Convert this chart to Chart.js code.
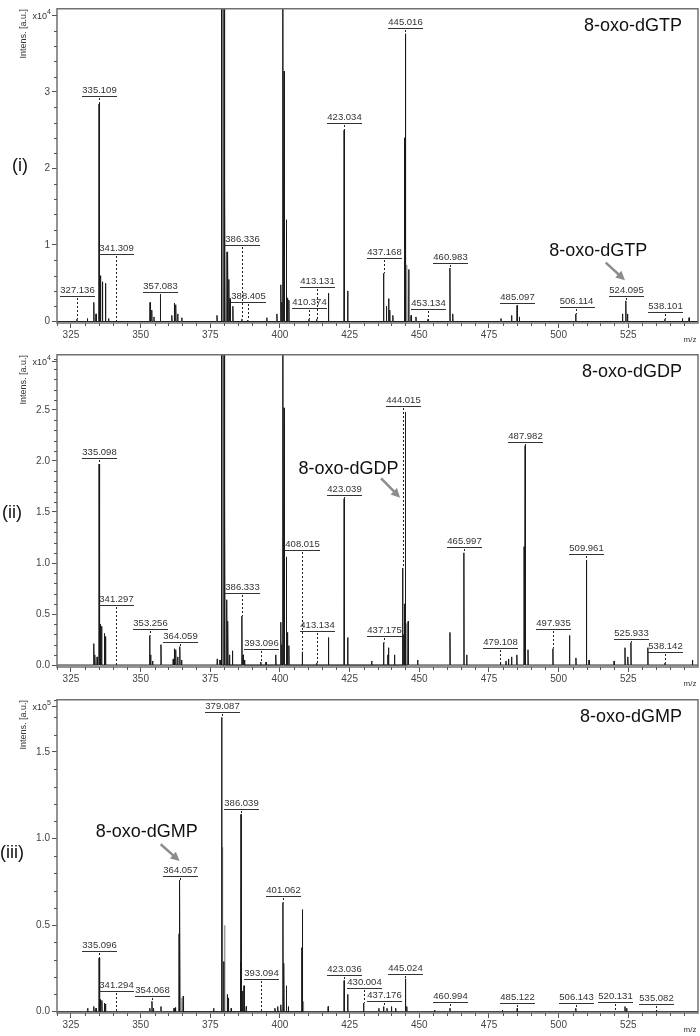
<!DOCTYPE html>
<html>
<head>
<meta charset="utf-8">
<script src="https://cdn.jsdelivr.net/npm/chart.js@4.4.1/dist/chart.umd.min.js"></script>
<style>
  body { margin: 0; background: #fff; width: 700px; height: 1036px; position: relative; overflow: hidden; }
  .panel { position: absolute; left: 0; width: 700px; }
</style>
</head>
<body>
<div class="panel" style="top:0;height:346px"><canvas id="c1"></canvas></div>
<div class="panel" style="top:346px;height:345px"><canvas id="c2"></canvas></div>
<div class="panel" style="top:691px;height:345px"><canvas id="c3"></canvas></div>
<script>
// m/z axis
const xTicks = [325, 350, 375, 400, 425, 450, 475, 500, 525];

// (i) 8-oxo-dGTP, intensity x10^4  [m/z, intensity]
const p1Peaks = [
  [327.136, 0.03], [330.9, 0.04], [333.2, 0.25], [334.0, 0.10], [335.109, 2.84], [335.6, 0.60],
  [336.3, 0.52], [337.4, 0.50], [338.5, 0.04], [341.309, 0.02], [353.4, 0.25], [354.0, 0.15],
  [354.8, 0.06], [357.083, 0.33], [361.2, 0.08], [362.1, 0.24], [362.6, 0.22], [363.3, 0.10],
  [364.8, 0.05], [377.4, 0.08], [379.0, 6], [380.0, 6], [380.2, 1.80], [381.0, 0.91],
  [381.3, 0.91], [381.7, 0.55], [382.1, 0.30], [383.1, 0.20], [386.336, 0.03], [388.405, 0.02],
  [395.3, 0.05], [398.9, 0.10], [400.3, 0.48], [400.7, 0.25], [401.06, 6], [401.5, 3.27],
  [402.3, 1.33], [402.7, 0.31], [403.2, 0.28], [410.374, 0.03], [413.131, 0.03], [417.4, 0.37],
  [423.034, 2.50], [424.3, 0.40], [437.168, 0.63], [438.2, 0.20], [439.0, 0.30], [439.4, 0.15],
  [440.5, 0.08], [444.65, 2.40], [445.016, 3.76], [446.2, 0.68], [447.05, 0.08], [448.8, 0.06],
  [453.134, 0.03], [460.983, 0.70], [462.0, 0.10], [479.3, 0.04], [483.1, 0.08], [485.097, 0.21],
  [485.9, 0.06], [506.114, 0.10], [522.9, 0.10], [524.095, 0.27], [524.7, 0.10], [538.101, 0.03],
  [544.4, 0.04], [546.8, 0.05]
];
const p1Gray = [[379.25, 6], [379.5, 6], [379.75, 6], [445.5, 0.74]];
const p1Labels = [
  [327.136, 0.33], [335.109, 2.94], [341.309, 0.88], [357.083, 0.38], [386.336, 1.0], [388.405, 0.25],
  [410.374, 0.18], [413.131, 0.45], [423.034, 2.59], [437.168, 0.83], [445.016, 3.83], [453.134, 0.17],
  [460.983, 0.76], [485.097, 0.24], [506.114, 0.19], [524.095, 0.34], [538.101, 0.13]
];
const p1YTicks = [0, 1, 2, 3];
const p1YLabels = ['0', '1', '2', '3'];

// (ii) 8-oxo-dGDP, intensity x10^4
const p2Peaks = [
  [333.2, 0.21], [333.6, 0.10], [334.4, 0.08], [335.098, 1.97], [335.45, 0.40], [336.0, 0.38],
  [337.0, 0.31], [337.4, 0.28], [341.297, 0.02], [353.256, 0.29], [353.6, 0.10], [354.3, 0.04],
  [357.3, 0.20], [361.7, 0.06], [362.1, 0.16], [362.6, 0.15], [363.3, 0.08], [364.059, 0.18],
  [364.7, 0.05], [377.5, 0.06], [378.5, 0.05], [379.0, 6], [380.0, 6], [380.2, 1.65],
  [380.9, 0.64], [381.3, 0.43], [381.9, 0.10], [382.95, 0.14], [386.333, 0.48], [386.8, 0.10],
  [387.3, 0.05], [393.096, 0.03], [395.0, 0.03], [398.5, 0.10], [400.3, 0.42], [400.7, 0.20],
  [401.06, 6], [401.5, 2.52], [402.3, 1.06], [402.7, 0.32], [403.2, 0.19], [408.015, 0.13],
  [413.134, 0.02], [417.4, 0.27], [423.039, 1.63], [424.3, 0.27], [432.9, 0.04], [437.175, 0.22],
  [438.7, 0.10], [439.0, 0.17], [441.1, 0.10], [444.015, 0.95], [444.4, 0.30], [444.65, 0.60],
  [445.0, 2.48], [446.0, 0.43], [449.4, 0.05], [461.0, 0.32], [465.997, 1.10], [467.0, 0.10],
  [479.108, 0.03], [481.1, 0.04], [482.0, 0.06], [483.1, 0.08], [485.0, 0.10], [487.6, 1.16],
  [487.982, 2.15], [489.0, 0.15], [497.935, 0.16], [503.9, 0.29], [506.2, 0.07], [509.961, 1.03],
  [510.9, 0.05], [519.9, 0.04], [523.8, 0.17], [524.8, 0.08], [525.933, 0.22], [532.0, 0.17],
  [538.142, 0.02], [548.0, 0.05]
];
const p2Gray = [[379.25, 6], [379.5, 6], [379.75, 6], [445.5, 0.41]];
const p2Labels = [
  [335.098, 2.03], [341.297, 0.59], [353.256, 0.35], [364.059, 0.23], [386.333, 0.71], [393.096, 0.16],
  [408.015, 1.13], [413.134, 0.33], [423.039, 1.67], [437.175, 0.28], [444.015, 2.54], [465.997, 1.16],
  [479.108, 0.17], [487.982, 2.19], [497.935, 0.35], [509.961, 1.09], [525.933, 0.26], [538.142, 0.13]
];
const p2YTicks = [0, 0.5, 1, 1.5, 2, 2.5];
const p2YLabels = ['0.0', '0.5', '1.0', '1.5', '2.0', '2.5'];

// (iii) 8-oxo-dGMP, intensity x10^5
const p3Peaks = [
  [331.0, 0.02], [333.2, 0.03], [334.0, 0.02], [335.096, 0.31], [335.5, 0.07], [336.1, 0.065],
  [337.0, 0.05], [337.4, 0.045], [353.3, 0.02], [354.068, 0.06], [354.6, 0.02], [357.3, 0.03],
  [362.0, 0.02], [362.5, 0.025], [363.8, 0.45], [364.057, 0.76], [365.3, 0.09], [376.2, 0.02],
  [379.087, 1.70], [379.8, 0.29], [381.1, 0.10], [381.5, 0.08], [382.5, 0.02], [385.8, 0.29],
  [386.039, 1.14], [386.6, 0.12], [387.1, 0.15], [387.9, 0.03], [398.2, 0.02], [399.2, 0.03],
  [400.3, 0.04], [401.062, 0.63], [401.4, 0.28], [402.3, 0.15], [403.0, 0.03], [407.8, 0.37],
  [408.05, 0.59], [417.3, 0.03], [423.036, 0.18], [424.3, 0.10], [430.004, 0.05], [435.5, 0.02],
  [437.176, 0.03], [438.4, 0.02], [440.0, 0.03], [441.5, 0.02], [445.024, 0.19], [445.5, 0.03],
  [455.5, 0.01], [460.994, 0.02], [479.8, 0.01], [485.122, 0.02], [506.143, 0.02], [523.8, 0.03],
  [524.4, 0.02], [535.082, 0.01]
];
const p3Gray = [[364.8, 0.08], [379.35, 0.95], [380.15, 0.50], [386.3, 0.12], [408.4, 0.06]];
const p3Labels = [
  [335.096, 0.35], [341.294, 0.12], [354.068, 0.09], [364.057, 0.785], [379.087, 1.73], [386.039, 1.17],
  [393.094, 0.19], [401.062, 0.67], [423.036, 0.21], [430.004, 0.135], [437.176, 0.063], [445.024, 0.22],
  [460.994, 0.056], [485.122, 0.05], [506.143, 0.05], [520.131, 0.056], [535.082, 0.045]
];
const p3YTicks = [0, 0.5, 1, 1.5];
const p3YLabels = ['0.0', '0.5', '1.0', '1.5'];

const FONT = '"Liberation Sans", Arial, sans-serif';

function sticks(peaks, withBase) {
  const pts = withBase ? [{x: 320, y: 0}] : [];
  peaks.slice().sort((a, b) => a[0] - b[0]).forEach(([mz, v]) => {
    pts.push({x: mz - 0.1, y: 0}, {x: mz, y: v}, {x: mz + 0.1, y: 0});
  });
  if (withBase) pts.push({x: 550, y: 0});
  return pts;
}

function specPlugin(cfg) {
  return {
    id: 'spec',
    afterDatasetsDraw(chart) {
      const {ctx, chartArea: a, scales: {x, y}} = chart;
      ctx.save();

      // frame
      ctx.strokeStyle = '#707070';
      ctx.lineWidth = 1.5;
      ctx.strokeRect(a.left, a.top + 0.75, a.right - a.left, a.bottom - a.top - 0.75);

      // minor ticks
      ctx.strokeStyle = '#555';
      ctx.lineWidth = 1;
      ctx.beginPath();
      for (let v = 320; v < 550; v += 5) {
        if (v % 25 === 0) continue;
        const px = Math.round(x.getPixelForValue(v)) + 0.5;
        ctx.moveTo(px, a.bottom); ctx.lineTo(px, a.bottom + 3);
      }
      for (let k = 1; k * cfg.minor <= cfg.yMax; k++) {
        const v = k * cfg.minor;
        if (cfg.yTicks.some(t => Math.abs(t - v) < 1e-6)) continue;
        const py = Math.round(y.getPixelForValue(v)) + 0.5;
        ctx.moveTo(a.left - 3, py); ctx.lineTo(a.left, py);
      }
      // exponent tick
      const ey = Math.round(a.top + 6.5) + 0.5;
      ctx.moveTo(a.left - 5, ey); ctx.lineTo(a.left, ey);
      ctx.stroke();

      // exponent label
      ctx.fillStyle = '#333';
      ctx.textAlign = 'right';
      ctx.textBaseline = 'middle';
      ctx.font = '7px ' + FONT;
      const sw = ctx.measureText(cfg.exp).width;
      ctx.fillText(cfg.exp, a.left - 6, ey - 3);
      ctx.font = '9px ' + FONT;
      ctx.fillText('x10', a.left - 6 - sw, ey + 1);

      // y title
      ctx.save();
      ctx.translate(24, a.top + 1);
      ctx.rotate(-Math.PI / 2);
      ctx.textAlign = 'right';
      ctx.font = '9px ' + FONT;
      ctx.fillText('Intens. [a.u.]', 0, 0);
      ctx.restore();

      // m/z
      ctx.textAlign = 'center';
      ctx.font = '8px ' + FONT;
      ctx.fillText('m/z', a.right - 8, a.bottom + 17);

      // peak labels with dotted leaders
      ctx.font = '9.5px ' + FONT;
      ctx.textBaseline = 'bottom';
      const zero = y.getPixelForValue(0);
      cfg.labels.forEach(([mz, ly]) => {
        const pk = cfg.peaks.find(p => p[0] === mz);
        const px = Math.round(x.getPixelForValue(mz)) + 0.5;
        const py = Math.round(y.getPixelForValue(ly));
        const top = Math.min(zero, y.getPixelForValue(pk ? pk[1] : 0));
        const t = mz.toFixed(3);
        const w = ctx.measureText(t).width;
        ctx.fillStyle = '#333';
        ctx.fillText(t, px, py - 1);
        ctx.fillRect(Math.round(px - w / 2), py, Math.round(w + 1), 1);
        if (top - py > 2) {
          ctx.strokeStyle = '#222';
          ctx.setLineDash([2, 2]);
          ctx.beginPath();
          ctx.moveTo(px, py + 2); ctx.lineTo(px, top);
          ctx.stroke();
          ctx.setLineDash([]);
        }
      });

      // compound title
      ctx.fillStyle = '#111';
      ctx.font = '18px ' + FONT;
      ctx.textAlign = 'right';
      ctx.textBaseline = 'middle';
      ctx.fillText(cfg.title, 682, a.top + 18);

      // arrow note
      ctx.textAlign = 'center';
      ctx.fillText(cfg.title, x.getPixelForValue(cfg.note[0]), y.getPixelForValue(cfg.note[1]));
      const x1 = x.getPixelForValue(cfg.arrow[0]), y1 = y.getPixelForValue(cfg.arrow[1]);
      const x2 = x.getPixelForValue(cfg.arrow[2]), y2 = y.getPixelForValue(cfg.arrow[3]);
      const ang = Math.atan2(y2 - y1, x2 - x1);
      ctx.strokeStyle = '#8c8c8c';
      ctx.fillStyle = '#8c8c8c';
      ctx.lineWidth = 2.5;
      ctx.beginPath();
      ctx.moveTo(x1, y1);
      ctx.lineTo(x2 - 7 * Math.cos(ang), y2 - 7 * Math.sin(ang));
      ctx.stroke();
      ctx.beginPath();
      ctx.moveTo(x2, y2);
      ctx.lineTo(x2 - 9 * Math.cos(ang) + 4.5 * Math.sin(ang), y2 - 9 * Math.sin(ang) - 4.5 * Math.cos(ang));
      ctx.lineTo(x2 - 9 * Math.cos(ang) - 4.5 * Math.sin(ang), y2 - 9 * Math.sin(ang) + 4.5 * Math.cos(ang));
      ctx.closePath();
      ctx.fill();

      // panel tag
      ctx.fillStyle = '#111';
      ctx.font = '18px ' + FONT;
      ctx.fillText(cfg.tag, cfg.tagX, cfg.tagY);

      ctx.restore();
    }
  };
}

const panels = [
  {id: 'c1', peaks: p1Peaks, gray: p1Gray, labels: p1Labels, yTicks: p1YTicks, yLabels: p1YLabels,
   yMin: -0.019, yMax: 4.096, minor: 0.2, exp: '4', title: '8-oxo-dGTP', tag: '(i)', tagX: 20, tagY: 166,
   note: [514.2, 0.92], arrow: [516.9, 0.77, 523.8, 0.54], padTop: 0, xHeight: 23},
  {id: 'c2', peaks: p2Peaks, gray: p2Gray, labels: p2Labels, yTicks: p2YTicks, yLabels: p2YLabels,
   yMin: -0.019, yMax: 3.048, minor: 0.1, exp: '4', title: '8-oxo-dGDP', tag: '(ii)', tagX: 12, tagY: 167,
   note: [424.6, 1.92], arrow: [436.3, 1.83, 443.1, 1.64], padTop: 2, xHeight: 24},
  {id: 'c3', peaks: p3Peaks, gray: p3Gray, labels: p3Labels, yTicks: p3YTicks, yLabels: p3YLabels,
   yMin: -0.0074, yMax: 1.806, minor: 0.1, exp: '5', title: '8-oxo-dGMP', tag: '(iii)', tagX: 12, tagY: 162,
   note: [352.2, 1.04], arrow: [357.2, 0.967, 364.0, 0.87], padTop: 2, xHeight: 23}
];

panels.forEach(cfg => {
  new Chart(document.getElementById(cfg.id), {
    type: 'line',
    data: {
      datasets: [
        {data: sticks(cfg.peaks, true), borderColor: '#1a1a1a', borderWidth: 1, pointRadius: 0, tension: 0, clip: 0, order: 1},
        {data: sticks(cfg.gray, false), borderColor: '#8a8a8a', borderWidth: 1.2, pointRadius: 0, tension: 0, clip: 0, order: 2}
      ]
    },
    options: {
      responsive: true,
      maintainAspectRatio: false,
      animation: false,
      events: [],
      layout: {padding: {top: cfg.padTop, right: 2, left: 0, bottom: 0}},
      plugins: {legend: {display: false}, tooltip: {enabled: false}},
      scales: {
        x: {
          type: 'linear',
          min: 320,
          max: 550,
          afterBuildTicks: s => { s.ticks = xTicks.map(v => ({value: v})); },
          afterFit: s => { s.height = cfg.xHeight; },
          grid: {drawOnChartArea: false, drawTicks: true, tickLength: 5, color: '#555'},
          border: {display: false},
          ticks: {autoSkip: false, maxRotation: 0, padding: 1, color: '#444',
                  font: {family: FONT, size: 10}, callback: (v, i) => String(xTicks[i])}
        },
        y: {
          min: cfg.yMin,
          max: cfg.yMax,
          afterBuildTicks: s => { s.ticks = cfg.yTicks.map(v => ({value: v})); },
          afterFit: s => { s.width = 57; },
          grid: {drawOnChartArea: false, drawTicks: true, tickLength: 5, color: '#555'},
          border: {display: false},
          ticks: {padding: 2, color: '#444', font: {family: FONT, size: 10},
                  callback: (v, i) => cfg.yLabels[i]}
        }
      }
    },
    plugins: [specPlugin(cfg)]
  });
});
</script>
</body>
</html>
